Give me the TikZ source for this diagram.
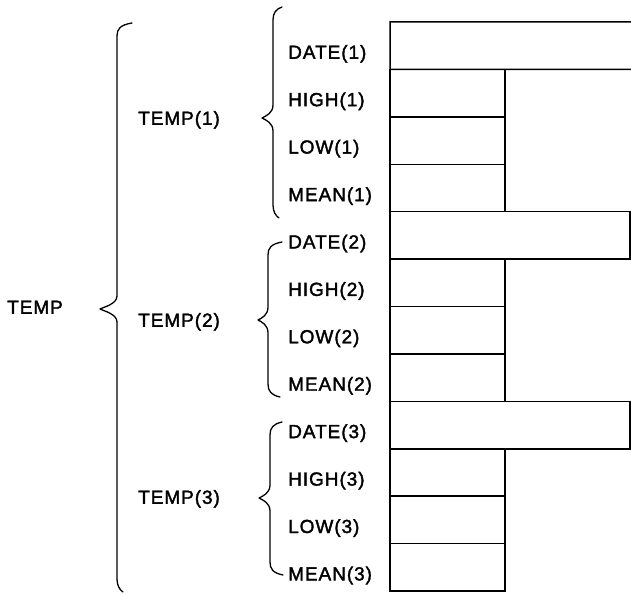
\documentclass[tikz,border=0pt]{standalone}
\usepackage{fontspec}
\setmainfont{Liberation Sans}[LetterSpace=5.0,FakeBold=1.8]
\begin{document}
\begin{tikzpicture}[x=1pt,y=-1pt,
  cellline/.style={line width=1.5pt},
  hcell/.style={cellline,draw,minimum width=115pt,minimum height=47.42pt,anchor=north west,inner sep=0pt,outer sep=0pt},
  dcell/.style={cellline,minimum width=240pt,minimum height=47.42pt,anchor=north west,inner sep=0pt,outer sep=0pt},
  lbl/.style={anchor=base west,inner sep=0pt,font=\fontsize{19}{21}\selectfont},
  brace/.style={line width=1.3pt,line cap=round,line join=round}]
\useasboundingbox (0,0) rectangle (631,594);
% cells
\node[dcell] (d1) at (390,22) {};
\node[hcell] (h1) at (390,69.42) {};
\node[hcell] (l1) at (390,116.83) {};
\node[hcell] (m1) at (390,164.25) {};
\node[dcell,draw] (d2) at (390,211.67) {};
\node[hcell] (h2) at (390,259.08) {};
\node[hcell] (l2) at (390,306.50) {};
\node[hcell] (m2) at (390,353.92) {};
\node[dcell,draw] (d3) at (390,401.33) {};
\node[hcell] (h3) at (390,448.75) {};
\node[hcell] (l3) at (390,496.17) {};
\node[hcell] (m3) at (390,543.58) {};
\draw[cellline] (631,22) -- (d1.north west) -- (d1.south west) -- (631,69.42);
% labels
\node[lbl] (ld1) at (288,58.8) {DATE(1)};
\node[lbl] (lh1) at (288,106.2) {HIGH(1)};
\node[lbl] (ll1) at (288,153.6) {LOW(1)};
\node[lbl] (lm1) at (288,201.1) {MEAN(1)};
\node[lbl] (ld2) at (288,248.5) {DATE(2)};
\node[lbl] (lh2) at (288,295.9) {HIGH(2)};
\node[lbl] (ll2) at (288,343.3) {LOW(2)};
\node[lbl] (lm2) at (288,390.7) {MEAN(2)};
\node[lbl] (ld3) at (288,438.1) {DATE(3)};
\node[lbl] (lh3) at (288,485.6) {HIGH(3)};
\node[lbl] (ll3) at (288,533.0) {LOW(3)};
\node[lbl] (lm3) at (288,580.4) {MEAN(3)};
\node[lbl] (t1) at (138,124.8) {TEMP(1)};
\node[lbl] (t2) at (138,326.8) {TEMP(2)};
\node[lbl] (t3) at (138,503.8) {TEMP(3)};
\node[lbl] (t) at (7,313.8) {TEMP};
% braces
\newcommand\mybrace[7]{%
  \draw[brace] (#1,#2) .. controls (#3+3,#2+2) and (#3,#2+6) .. (#3,#2+13)
    -- (#3,#5-13) .. controls (#3,#5-5) and (#4+4,#5-2) .. (#4,#5)
    .. controls (#4+4,#5+2) and (#3,#5+5) .. (#3,#5+13)
    -- (#3,#7-13) .. controls (#3,#7-6) and (#3+3,#7-2) .. (#6,#7);}
\mybrace{132}{23}{117}{100}{309}{123}{592}
\mybrace{282}{7}{273}{262}{118}{279}{218}
\mybrace{282}{242}{268}{258}{320}{280}{397}
\mybrace{282}{422}{270}{259}{498}{283}{575}
\end{tikzpicture}
\end{document}
